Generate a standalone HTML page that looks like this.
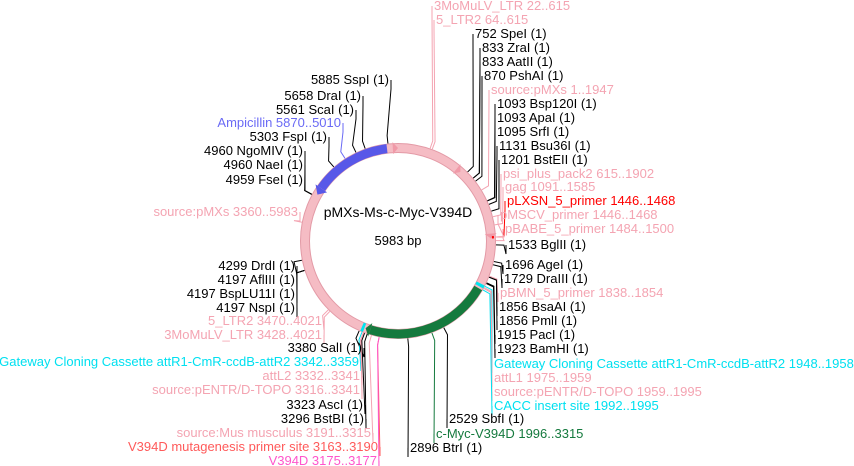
<!DOCTYPE html>
<html><head><meta charset="utf-8">
<style>
html,body{margin:0;padding:0;background:#fff;}
svg{display:block;}
text{font-family:"Liberation Sans",sans-serif;font-size:13px;}
</style></head>
<body>
<svg id="s" width="854" height="466" viewBox="0 0 854 466" xmlns="http://www.w3.org/2000/svg">
<g id="lines" fill="none" stroke-width="1"></g>
<circle cx="398" cy="241" r="93" fill="none" stroke="#e39aa6" stroke-width="10"/>
<circle cx="398" cy="241" r="93" fill="none" stroke="#f5bcc4" stroke-width="8"/>
<g id="feat"></g>
<text x="398" y="217" text-anchor="middle" style="font-size:14px">pMXs-Ms-c-Myc-V394D</text>
<text x="398" y="245" text-anchor="middle">5983 bp</text>
<g id="labels"></g>
</svg>
<script>
var cx=398,cy=241,R=93,N=5983,NS="http://www.w3.org/2000/svg";
function ang(p){return p/N*2*Math.PI;}
function pt(p,r){var a=ang(p);return [cx+r*Math.sin(a),cy-r*Math.cos(a)];}
function el(t,a,parent){var e=document.createElementNS(NS,t);for(var k in a)e.setAttribute(k,a[k]);document.getElementById(parent).appendChild(e);return e;}
function arc(p1,p2,r){var a=pt(p1,r),b=pt(p2,r);var d=((p2-p1)+N)%N;var large=d>N/2?1:0;return "M"+a[0]+","+a[1]+" A"+r+","+r+" 0 "+large+" 1 "+b[0]+","+b[1];}
el("path",{d:arc(5060,5870,R),stroke:"#5858e8","stroke-width":9,fill:"none"},"feat");
(function(){var a=pt(5060,R+7),b=pt(5060,R-7),c=pt(4985,R);el("polygon",{points:a+" "+b+" "+c,fill:"#5858e8"},"feat");})();
el("path",{d:arc(2000,3280,R),stroke:"#157a3e","stroke-width":9,fill:"none"},"feat");
(function(){var a=pt(3280,R+7),b=pt(3280,R-7),c=pt(3330,R);el("polygon",{points:a+" "+b+" "+c,fill:"#157a3e"},"feat");})();
[[1948,1980],[3342,3370]].forEach(function(s){el("path",{d:arc(s[0],s[1],R),stroke:"#00e5f0","stroke-width":9,fill:"none"},"feat");});
[[5930,5983],[650,700],[1420,1470]].forEach(function(s){var a=pt(s[0],R+6),b=pt(s[0],R-6),c=pt(s[1],R);el("polygon",{points:a+" "+b+" "+c,fill:"#f09aa8"},"feat");});
el("path",{d:arc(1446,1470,R+2),stroke:"#ff0000","stroke-width":2,fill:"none"},"feat");
var K="#000",P="#f4a4b2",C="#00e0f0";
var L=[
["3MoMuLV_LTR 22..615",318,434,10,P,1],
["5_LTR2 64..615",340,436,24,P,1],
["752 SpeI (1)",752,475,38,K,1],
["833 ZraI (1)",833,482,52,K,1],
["833 AatII (1)",833,482,66,K,1],
["870 PshAI (1)",870,484,80,K,1],
["source:pMXs 1..1947",974,491,94,P,1],
["1093 Bsp120I (1)",1093,497,108,K,1],
["1093 ApaI (1)",1093,497,122,K,1],
["1095 SrfI (1)",1095,497,136,K,1],
["1131 Bsu36I (1)",1131,499,150,K,1],
["1201 BstEII (1)",1201,501,164,K,1],
["psi_plus_pack2 615..1902",1258,503,178,P,1],
["gag 1091..1585",1338,505,191,P,1],
["pLXSN_5_primer 1446..1468",1457,507,205,"#ff0000",1],
["pMSCV_primer 1446..1468",1457,500,219,P,1],
["pBABE_5_primer 1484..1500",1492,505,233,P,1],
["1533 BglII (1)",1533,508,249,K,1],
["1696 AgeI (1)",1696,505,269,K,1],
["1729 DraIII (1)",1729,504,283,K,1],
["pBMN_5_primer 1838..1854",1846,500,297,P,1],
["1856 BsaAI (1)",1856,499,311,K,1],
["1856 PmlI (1)",1856,499,325,K,1],
["1915 PacI (1)",1915,497,339,K,1],
["1923 BamHI (1)",1923,497,353,K,1],
["Gateway Cloning Cassette attR1-CmR-ccdB-attR2 1948..1958",1953,494,368,C,1],
["attL1 1975..1959",1967,494,382,P,1],
["source:pENTR/D-TOPO 1959..1995",1977,494,396,P,1],
["CACC insert site 1992..1995",1993,494,410,C,1],
["2529 SbfI (1)",2529,449,423,K,1],
["c-Myc-V394D 1996..3315",2655,436,438,"#157a3e",1],
["2896 BtrI (1)",2896,410,452,K,1],
["5885 SspI (1)",5885,389,84,K,-1],
["5658 DraI (1)",5658,361,100,K,-1],
["5561 ScaI (1)",5561,354,114,K,-1],
["Ampicillin 5870..5010",5440,341,127,"#6a6af5",-1],
["5303 FspI (1)",5303,327,141,K,-1],
["4960 NgoMIV (1)",4960,303,155,K,-1],
["4960 NaeI (1)",4960,303,169,K,-1],
["4959 FseI (1)",4959,303,184,K,-1],
["source:pMXs 3360..5983",4671,298,216,P,-1],
["4299 DrdI (1)",4299,295,270,K,-1],
["4197 AflIII (1)",4197,295,284,K,-1],
["4197 BspLU11I (1)",4197,295,298,K,-1],
["4197 NspI (1)",4197,295,312,K,-1],
["5_LTR2 3470..4021",3745,322,325,P,-1],
["3MoMuLV_LTR 3428..4021",3724,322,339,P,-1],
["3380 SalI (1)",3380,362,352,K,-1],
["Gateway Cloning Cassette attR1-CmR-ccdB-attR2 3342..3359",3350,359,366,C,-1],
["attL2 3332..3341",3336,360,380,P,-1],
["source:pENTR/D-TOPO 3316..3341",3328,360,394,P,-1],
["3323 AscI (1)",3323,363,409,K,-1],
["3296 BstBI (1)",3296,364,423,K,-1],
["source:Mus musculus 3191..3315",3253,371,437,P,-1],
["V394D mutagenesis primer site 3163..3190",3176,378,451,"#ff5a5a",-1],
["V394D 3175..3177",3176,377,465,"#ff55cc",-1]
];
L.forEach(function(l){
  var t=el("text",{x:l[2],y:l[3],fill:l[4],"text-anchor":l[5]>0?"start":"end"},"labels");t.textContent=l[0];
  var a=pt(l[1],R+5),b=pt(l[1],R+13);
  var ax=l[5]>0?l[2]-2:l[2]+2, ay=l[3]-4;
  var lc=(l[4]==K)?"#000":l[4];
  el("polyline",{points:a.join(",")+" "+b.join(",")+" "+ax+","+(ay+9)+" "+ax+","+ay},"lines").setAttribute("stroke",lc);
});
</script>
</body></html>
